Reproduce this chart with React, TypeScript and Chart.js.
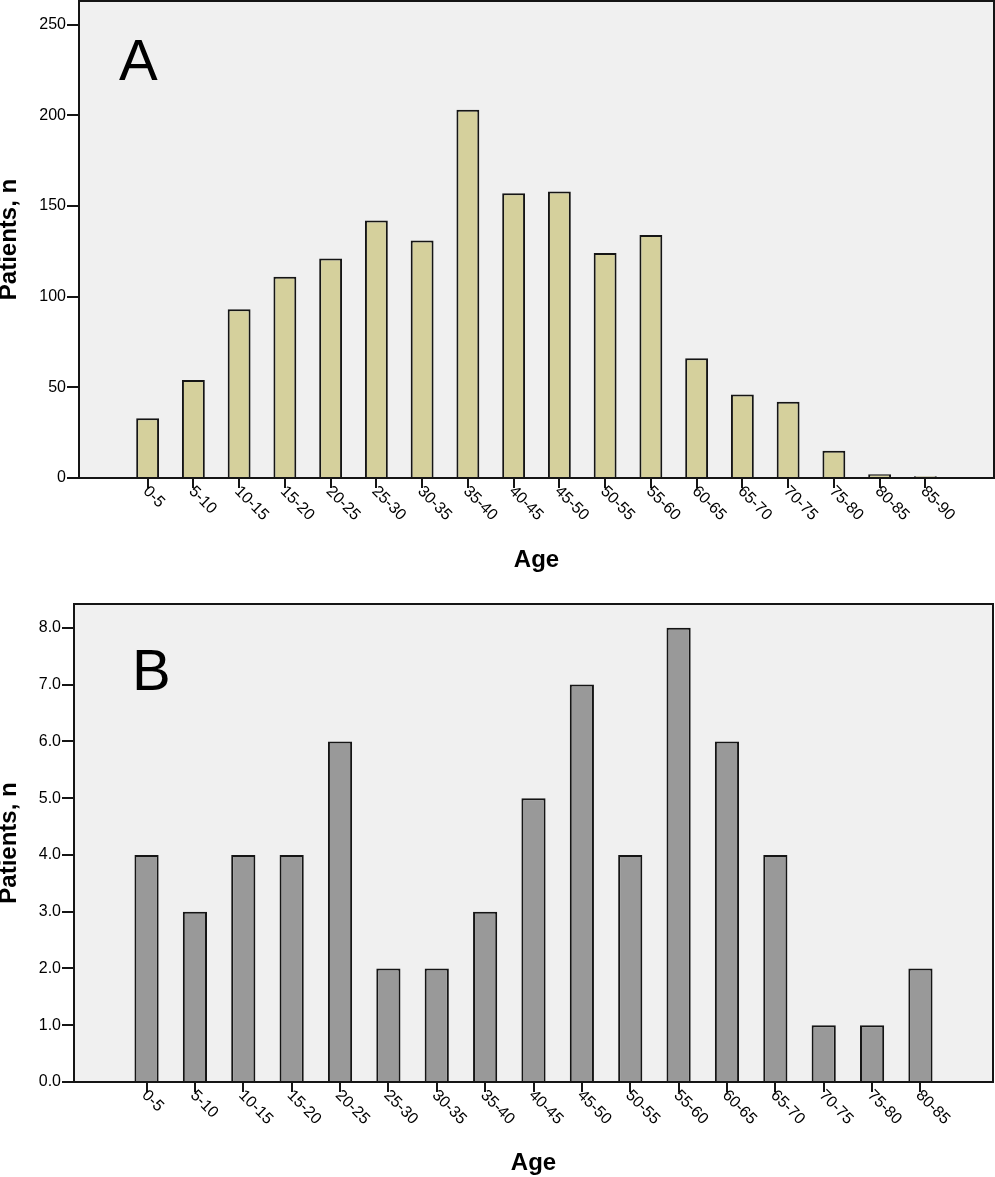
import React, { useEffect, useRef } from "react";
import { Chart, registerables } from "chart.js";

Chart.register(...registerables);

const categoriesA = ["0-5", "5-10", "10-15", "15-20", "20-25", "25-30", "30-35", "35-40", "40-45", "45-50", "50-55", "55-60", "60-65", "65-70", "70-75", "75-80", "80-85", "85-90"];
const patientsA = [33, 54, 93, 111, 121, 142, 131, 203, 157, 158, 124, 134, 66, 46, 42, 15, 2, 1];

const categoriesB = ["0-5", "5-10", "10-15", "15-20", "20-25", "25-30", "30-35", "35-40", "40-45", "45-50", "50-55", "55-60", "60-65", "65-70", "70-75", "75-80", "80-85"];
const patientsB = [4, 3, 4, 4, 6, 2, 2, 3, 5, 7, 4, 8, 6, 4, 1, 1, 2];

const FONT = "'Liberation Sans', Arial, sans-serif";
const LINE = "#151515";

type Cfg = {
  categories: string[];
  values: number[];
  color: string;
  letter: string;
  letterX: number;
  letterY: number;
  yMax: number;
  yStep: number;
  decimals: number;
  yWidth: number;
  xHeight: number;
  padTop: number;
  padRight: number;
  titlePadBottom: number;
};

function makeChart(canvas: HTMLCanvasElement, c: Cfg) {
  const labels = ["", ...c.categories, ""];
  const data = [null, ...c.values, null];

  const framePlugin = {
    id: "frame",
    beforeDraw(chart: any) {
      const { ctx, chartArea: a } = chart;
      ctx.save();
      ctx.fillStyle = "#f0f0f0";
      ctx.fillRect(a.left, a.top, a.right - a.left, a.bottom - a.top);
      ctx.restore();
    },
    afterDatasetsDraw(chart: any) {
      const { ctx, chartArea: a } = chart;
      ctx.save();
      ctx.strokeStyle = LINE;
      ctx.lineWidth = 2;
      ctx.strokeRect(a.left, a.top, a.right - a.left, a.bottom - a.top);
      ctx.fillStyle = "#000";
      ctx.font = `58px ${FONT}`;
      ctx.textAlign = "left";
      ctx.textBaseline = "alphabetic";
      ctx.fillText(c.letter, c.letterX, c.letterY);
      const xs = chart.scales.x;
      ctx.font = `16px ${FONT}`;
      ctx.textBaseline = "middle";
      xs.ticks.forEach((t: any, i: number) => {
        const lab = labels[i];
        if (!lab) return;
        const x = xs.getPixelForTick(i);
        const y = xs.top + 13;
        ctx.save();
        ctx.translate(x, y);
        ctx.rotate(Math.PI / 4);
        ctx.fillText(lab, -3, 0);
        ctx.restore();
      });
      ctx.restore();
    },
  };

  return new Chart(canvas, {
    type: "bar",
    data: {
      labels,
      datasets: [
        {
          data: data as any,
          backgroundColor: c.color,
          borderColor: LINE,
          borderWidth: 2,
          categoryPercentage: 1,
          barPercentage: 0.5,
        },
      ],
    },
    options: {
      animation: false,
      responsive: false,
      layout: { padding: { top: c.padTop, right: c.padRight, left: 0, bottom: 0 } },
      plugins: { legend: { display: false }, tooltip: { enabled: false } },
      scales: {
        x: {
          offset: true,
          grid: {
            offset: false,
            drawOnChartArea: false,
            drawTicks: true,
            tickLength: 10,
            lineWidth: 2,
            color: (ctx: any) => (ctx.index === 0 || ctx.index === labels.length - 1 ? "rgba(0,0,0,0)" : LINE),
          },
          border: { display: false },
          ticks: { autoSkip: false, minRotation: 0, maxRotation: 0, color: "rgba(0,0,0,0)", font: { size: 16, family: FONT } },
          title: {
            display: true,
            text: "Age",
            color: "#000",
            font: { size: 24, weight: "bold", family: FONT, lineHeight: 1 },
            padding: { top: 0, bottom: c.titlePadBottom },
          },
          afterFit: (s: any) => {
            s.height = c.xHeight;
            s.paddingLeft = 0;
            s.paddingRight = 0;
            s.paddingTop = 0;
            s.paddingBottom = 0;
          },
        },
        y: {
          min: 0,
          max: c.yMax,
          grid: { drawOnChartArea: false, drawTicks: true, tickLength: 12, lineWidth: 2, color: LINE },
          border: { display: false },
          ticks: {
            stepSize: c.yStep,
            padding: 1,
            color: "#000",
            font: { size: 16, family: FONT },
            callback: (v: any) => Number(v).toFixed(c.decimals),
          },
          afterBuildTicks: (s: any) => {
            s.ticks = s.ticks.filter((t: any) => Math.abs(t.value / c.yStep - Math.round(t.value / c.yStep)) < 1e-6);
          },
          title: {
            display: true,
            text: "Patients, n",
            color: "#000",
            font: { size: 24, weight: "bold", family: FONT, lineHeight: 0.8 },
            padding: { top: 0, bottom: 0 },
          },
          afterFit: (s: any) => {
            s.width = c.yWidth;
            s.paddingLeft = 0;
            s.paddingRight = 0;
            s.paddingTop = 0;
            s.paddingBottom = 0;
          },
        },
      },
    },
    plugins: [framePlugin],
  } as any);
}

function BarPanel({ cfg, height }: { cfg: Cfg; height: number }) {
  const ref = useRef<HTMLCanvasElement | null>(null);
  useEffect(() => {
    if (!ref.current) return;
    const ch = makeChart(ref.current, cfg);
    return () => ch.destroy();
  }, []);
  return <canvas ref={ref} width={995} height={height} style={{ display: "block", width: 995, height }} />;
}

const cfgA: Cfg = {
  categories: categoriesA,
  values: patientsA,
  color: "#d5d09c",
  letter: "A",
  letterX: 119,
  letterY: 80,
  yMax: 263,
  yStep: 50,
  decimals: 0,
  yWidth: 79,
  xHeight: 112,
  padTop: 1,
  padRight: 1,
  titlePadBottom: 18,
};

const cfgB: Cfg = {
  categories: categoriesB,
  values: patientsB,
  color: "#999999",
  letter: "B",
  letterX: 132,
  letterY: 100,
  yMax: 8.42,
  yStep: 1,
  decimals: 1,
  yWidth: 74,
  xHeight: 95,
  padTop: 14,
  padRight: 2,
  titlePadBottom: 2,
};

if (typeof document !== "undefined") {
  document.body.style.margin = "0";
  document.body.style.background = "#fff";
}

export default function App() {
  return (
    <div style={{ width: 995, height: 1177, background: "#fff" }}>
      <BarPanel cfg={cfgA} height={590} />
      <BarPanel cfg={cfgB} height={587} />
    </div>
  );
}
